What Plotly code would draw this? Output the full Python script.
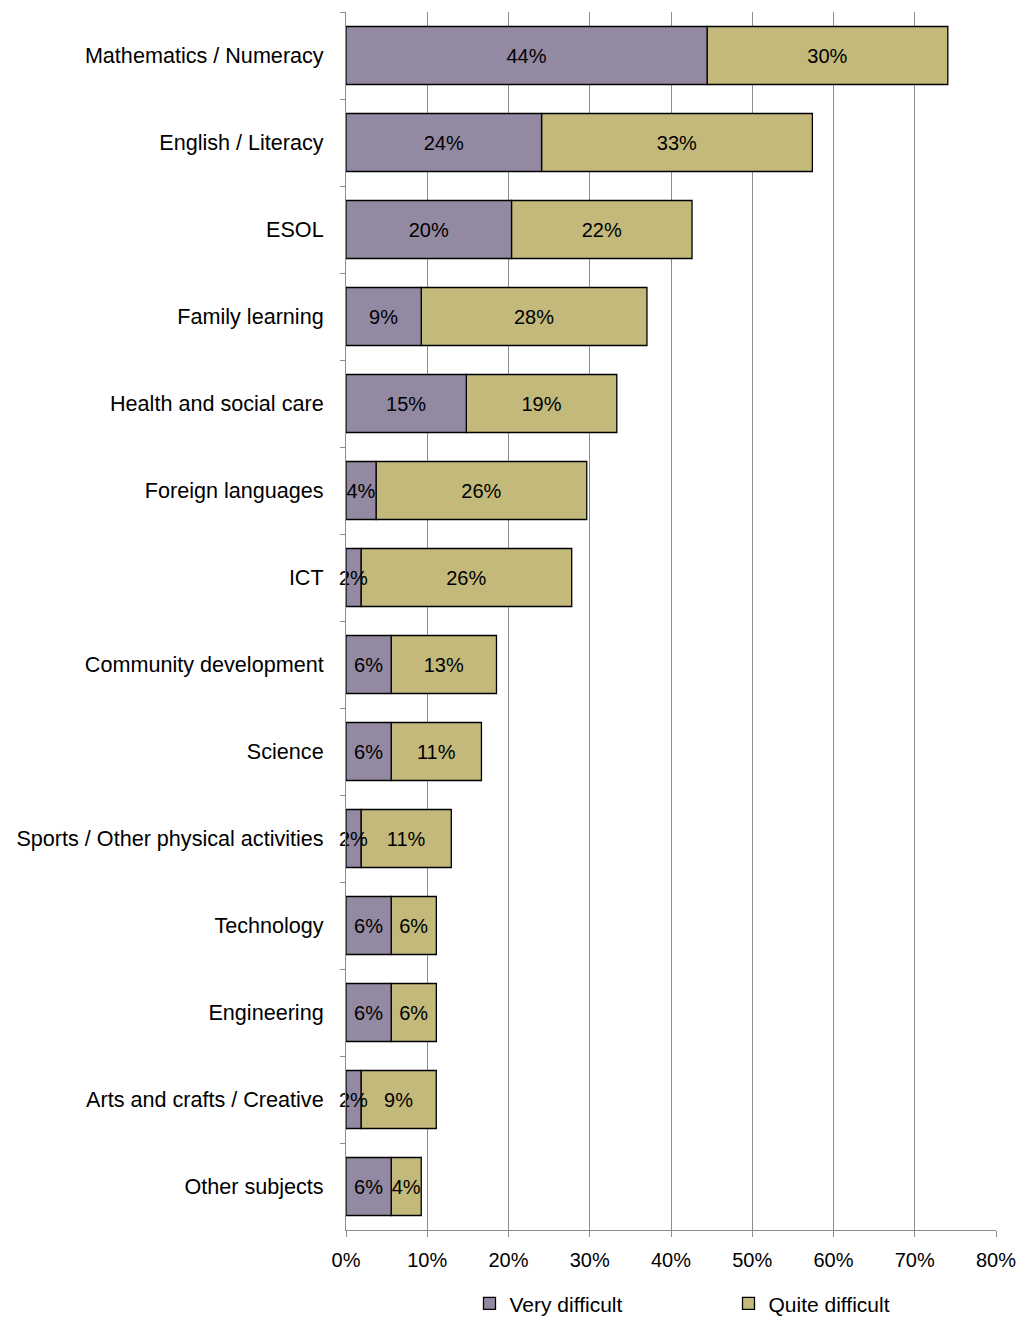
import plotly.graph_objects as go

categories = [
    "Mathematics / Numeracy", "English / Literacy", "ESOL", "Family learning",
    "Health and social care", "Foreign languages", "ICT", "Community development",
    "Science", "Sports / Other physical activities", "Technology", "Engineering",
    "Arts and crafts / Creative", "Other subjects",
]
very_difficult = [44.44, 24.07, 20.37, 9.26, 14.81, 3.70, 1.85, 5.56, 5.56, 1.85, 5.56, 5.56, 1.85, 5.56]
quite_difficult = [29.63, 33.33, 22.22, 27.78, 18.52, 25.93, 25.93, 12.96, 11.11, 11.11, 5.56, 5.56, 9.26, 3.70]
x_ticks = [0, 10, 20, 30, 40, 50, 60, 70, 80]

FONT = "Liberation Sans, Arial, sans-serif"
PURPLE = "#9389A2"
KHAKI = "#C2B97B"
GRID = "#8C8C8C"

fig = go.Figure()
# Quite difficult drawn first (stacked on top of very difficult via base),
# so that labels of the narrow 'very difficult' segments sit above it.
fig.add_trace(go.Bar(
    name="Quite difficult", y=categories, x=quite_difficult, base=very_difficult,
    orientation="h", legendrank=2, cliponaxis=False,
    marker=dict(color=KHAKI, line=dict(color="black", width=1.3)),
    text=[f"{round(v)}%" for v in quite_difficult],
    textposition="inside", insidetextanchor="middle",
    constraintext="none", textangle=0,
    textfont=dict(family=FONT, size=20, color="black"),
    hoverinfo="skip",
))
fig.add_trace(go.Bar(
    name="Very difficult", y=categories, x=very_difficult,
    orientation="h", legendrank=1, cliponaxis=False,
    marker=dict(color=PURPLE, line=dict(color="black", width=1.3)),
    text=[f"{round(v)}%" for v in very_difficult],
    textposition="inside", insidetextanchor="middle",
    constraintext="none", textangle=0,
    textfont=dict(family=FONT, size=20, color="black"),
    hoverinfo="skip",
))

fig.update_layout(
    barmode="overlay", bargap=0.333,
    width=1019, height=1317,
    margin=dict(l=346, r=23, t=12, b=87, autoexpand=False),
    paper_bgcolor="white", plot_bgcolor="white",
    font=dict(family=FONT, size=20, color="black"),
    legend=dict(orientation="h", x=0.19, xanchor="left", y=-0.0605, yanchor="middle",
                entrywidth=214, entrywidthmode="pixels",
                font=dict(family=FONT, size=21, color="black"),
                itemwidth=30, traceorder="normal", bgcolor="rgba(0,0,0,0)"),
    showlegend=True,
)
fig.update_xaxes(
    range=[0, 80], tickvals=x_ticks, ticktext=[f"{v}%" for v in x_ticks],
    showgrid=True, gridcolor=GRID, gridwidth=1,
    showline=True, linecolor=GRID, linewidth=1,
    ticks="outside", ticklen=6, tickcolor=GRID, ticklabelstandoff=6,
    tickfont=dict(family=FONT, size=20, color="black"),
    zeroline=False, automargin=False,
)
fig.update_yaxes(
    categoryorder="array", categoryarray=categories, autorange="reversed",
    showgrid=False, showline=True, linecolor=GRID, linewidth=1,
    ticks="outside", ticklen=5, tickcolor=GRID, tickson="boundaries",
    ticklabelstandoff=17, automargin=False,
    tickfont=dict(family=FONT, size=21.6, color="black"),
)

fig.write_html(
    "out.html",
    config={"displayModeBar": False},
    post_script="document.body.style.margin='0px';document.body.style.overflow='hidden';",
)
